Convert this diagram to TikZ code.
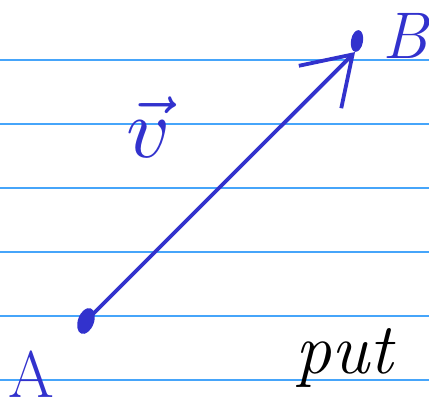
\documentclass[tikz,border=0pt]{standalone}
\usepackage{graphicx}
\usetikzlibrary{arrows.meta, positioning, shapes.geometric}

\definecolor{ink}{RGB}{50,50,205}
\definecolor{rulecol}{RGB}{70,165,250}

\begin{document}
\begin{tikzpicture}[
        x=1pt, y=-1pt,
        ruleline/.style={draw=rulecol, line width=1.4pt},
        dot/.style={ellipse, fill=ink, inner sep=0pt},
        vecline/.style={draw=ink, line width=3.8pt, line cap=round, -{Straight Barb[length=46pt, width=60pt, line width=3.8pt]}},
        letter/.style={text=ink, inner sep=0pt, font=\fontsize{66}{66}\selectfont},
        word/.style={text=black, inner sep=0pt, font=\fontsize{72}{72}\selectfont\itshape}
    ]
        \useasboundingbox (0,0) rectangle (429,412);

        % paper rules
        \foreach \y in {60,124,...,380}
            \draw[ruleline] (0,\y) -- (429,\y);

        \node[dot, minimum width=16pt, minimum height=27pt, rotate=-20] (tail) at (86,321) {};
        \node[dot, minimum width=12pt, minimum height=22pt, rotate=-10] (head) at (357,41) {};

        \node[letter] (labA) at (31,374) {A};
        \node[letter, font=\fontsize{66}{66}\selectfont\itshape] (labB) at (405,36) {B};
        \node[text=ink, inner sep=0pt] (labv) at (149,127) {\scalebox{8.5}{$\vec{v}$}};
        \node[word] (put) at (344,358) {put};

        \draw[vecline] (tail.center) -- (head.south);
    \end{tikzpicture}
\end{document}
